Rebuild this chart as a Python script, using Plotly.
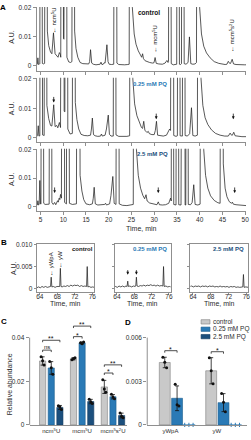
import plotly.graph_objects as go

W, H = 251, 440
FONT = "Liberation Sans, Arial, Helvetica, sans-serif"
AX = "#8f8f8f"
TXT = "#2b2b2b"
BLUE = "#2a7ab6"
DBLUE = "#1b4f7d"
LGRAY = "#c9c9c9"
GEDGE = "#7d7d7d"
LINE = "#222222"

# ---------------- data ----------------
A_TICKS = [5, 10, 15, 20, 25, 30, 35, 40, 45, 50]
B_TICKS = [64, 68, 72, 76]

# chromatogram vertices: (time, absorbance); tall peaks run off the top
A1 = [(4.15, 0.0004), (4.3, 0.0006), (4.42, 0.0028), (4.55, 0.0005), (4.8, 0.0007),
      (4.85, 0.0008), (5.12, 0.3), (5.4, 0.0009), (5.6, 0.0007), (5.9, 0.0009), (6.2, 0.3),
      (6.5, 0.012), (6.8, 0.007), (7.2, 0.0048), (7.5, 0.0042), (7.85, 0.0114), (8.2, 0.0042),
      (8.6, 0.0036), (8.85, 0.0030), (9.15, 0.0046), (9.35, 0.0040), (9.45, 0.003), (9.75, 0.3),
      (10.05, 0.0095), (10.15, 0.0092), (10.5, 0.3), (10.8, 0.0030), (11.2, 0.0014), (11.6, 0.0012),
      (11.9, 0.0015), (12.2, 0.3), (12.5, 0.012), (12.8, 0.006), (13.2, 0.003), (13.7, 0.0012),
      (14.3, 0.0008), (15.0, 0.0007), (15.6, 0.0007), (15.8, 0.0015), (16.0, 0.0056), (16.25, 0.0010),
      (16.6, 0.0006), (17.2, 0.0004), (17.8, 0.0005), (18.1, 0.0006), (18.3, 0.0013), (18.5, 0.0005),
      (18.8, 0.0006), (19.0, 0.0011), (19.2, 0.0010), (19.4, 0.0040), (19.6, 0.0073), (19.85, 0.0015),
      (20.1, 0.0006), (20.6, 0.0005), (21.1, 0.0006), (21.45, 0.3), (21.8, 0.0010), (22.2, 0.0005),
      (22.8, 0.0004), (23.5, 0.0004), (24.2, 0.0005), (24.5, 0.0006), (24.8, 0.3), (25.2, 0.02),
      (25.6, 0.011), (26.0, 0.0075), (26.5, 0.0052), (27.0, 0.0034), (27.25, 0.0030), (27.45, 0.0042),
      (27.65, 0.0025), (28.0, 0.0018), (28.5, 0.0014), (29.0, 0.0012), (29.6, 0.0010), (29.95, 0.0011),
      (30.2, 0.0029), (30.45, 0.0009), (31.0, 0.0007), (31.8, 0.0006), (32.4, 0.0010), (32.8, 0.0019),
      (33.05, 0.0012), (33.15, 0.0015), (33.45, 0.3), (33.75, 0.0008), (34.2, 0.0004), (34.6, 0.0004),
      (34.95, 0.0006), (35.25, 0.3), (35.55, 0.0006), (35.8, 0.0005), (36.0, 0.0008), (36.3, 0.3),
      (36.6, 0.0008), (37.0, 0.0006), (37.45, 0.0012), (37.75, 0.0100), (38.05, 0.0008), (38.5, 0.0006),
      (39.0, 0.0007), (39.3, 0.0012), (39.6, 0.3), (40.0, 0.02), (40.4, 0.011), (40.9, 0.0068),
      (41.5, 0.0045), (42.3, 0.0028), (43.2, 0.0015), (44.2, 0.0009), (45.0, 0.0006), (45.6, 0.0005),
      (46.0, 0.0006), (46.3, 0.0016), (46.6, 0.0009), (46.8, 0.0009), (47.15, 0.0023), (47.45, 0.0007),
      (48.0, 0.0005), (48.6, 0.0004), (49.2, 0.0005), (49.8, 0.0004), (50.2, 0.0004)]

A2 = [(4.15, 0.0004), (4.35, 0.0008), (4.5, 0.0041), (4.65, 0.0006), (4.85, 0.0007), (5.15, 0.3),
      (5.45, 0.0010), (5.8, 0.0008), (6.1, 0.3), (6.4, 0.011), (6.8, 0.0065), (7.2, 0.0042),
      (7.5, 0.0040), (7.9, 0.0112), (8.2, 0.0038), (8.55, 0.0042), (8.8, 0.0034), (9.15, 0.0052),
      (9.4, 0.0035), (9.9, 0.3), (10.2, 0.009), (10.35, 0.0088), (10.7, 0.3), (11.0, 0.003),
      (11.5, 0.0013), (12.0, 0.0015), (12.3, 0.3), (12.65, 0.012), (13.0, 0.0062), (13.4, 0.003),
      (13.9, 0.0012), (14.6, 0.0008), (15.4, 0.0007), (16.0, 0.0009), (16.2, 0.003), (16.4, 0.0067),
      (16.65, 0.0011), (17.0, 0.0007), (17.6, 0.0005), (18.2, 0.0006), (18.4, 0.0013), (18.6, 0.0006),
      (19.2, 0.0009), (19.5, 0.003), (19.9, 0.0077), (20.15, 0.0012), (20.5, 0.0006), (21.0, 0.0006),
      (21.3, 0.3), (21.6, 0.001), (22.2, 0.0005), (23.0, 0.0004), (24.0, 0.0005), (24.6, 0.0007),
      (24.9, 0.3), (25.3, 0.02), (25.7, 0.0115), (26.2, 0.0075), (26.7, 0.0052), (27.2, 0.0035),
      (27.45, 0.0032), (27.7, 0.0056), (27.95, 0.0026), (28.4, 0.0018), (28.7, 0.0022), (28.95, 0.0014),
      (29.5, 0.0011), (30.0, 0.0011), (30.25, 0.0025), (30.5, 0.0056), (30.75, 0.0009), (31.3, 0.0007),
      (32.0, 0.0006), (32.7, 0.0009), (33.2, 0.0025), (33.4, 0.003), (33.6, 0.0025), (34.0, 0.3),
      (34.3, 0.0008), (34.8, 0.0005), (35.1, 0.0007), (35.4, 0.3), (35.7, 0.0007), (36.2, 0.0006),
      (36.5, 0.3), (36.8, 0.0008), (37.3, 0.0006), (37.8, 0.0014), (38.2, 0.0102), (38.5, 0.0008),
      (39.0, 0.0006), (39.5, 0.0009), (39.9, 0.3), (40.3, 0.02), (40.7, 0.011), (41.2, 0.0068),
      (41.8, 0.0045), (42.6, 0.0027), (43.5, 0.0015), (44.5, 0.0009), (45.5, 0.0006), (46.3, 0.0006),
      (46.7, 0.0016), (47.0, 0.0009), (47.2, 0.0009), (47.5, 0.0019), (47.8, 0.0007), (48.5, 0.0005),
      (49.3, 0.0004), (50.2, 0.0004)]

A3 = [(4.15, 0.0004), (4.3, 0.0006), (4.42, 0.0021), (4.55, 0.0006), (4.7, 0.0008), (4.85, 0.0092),
      (5.0, 0.0010), (5.1, 0.0009), (5.4, 0.3), (5.7, 0.0012), (6.0, 0.0008), (6.6, 0.0007),
      (6.9, 0.0009), (7.2, 0.3), (7.5, 0.0015), (7.8, 0.0008), (8.1, 0.0015), (8.35, 0.0007),
      (8.75, 0.0021), (8.9, 0.0016), (9.1, 0.0030), (9.25, 0.0025), (9.4, 0.0043), (9.6, 0.003),
      (9.95, 0.3), (10.3, 0.0015), (10.7, 0.0010), (11.0, 0.3), (11.35, 0.0012), (12.0, 0.0008),
      (12.9, 0.0010), (13.3, 0.3), (13.7, 0.011), (14.1, 0.0055), (14.5, 0.0025), (15.0, 0.0010),
      (15.8, 0.0007), (16.4, 0.0010), (16.6, 0.003), (16.8, 0.0068), (17.05, 0.0010), (17.6, 0.0006),
      (18.4, 0.0006), (19.1, 0.0008), (19.3, 0.0012), (19.5, 0.0006), (20.2, 0.0010), (20.5, 0.004),
      (20.9, 0.0106), (21.2, 0.0012), (21.6, 0.0008), (22.0, 0.3), (22.3, 0.0010), (23.0, 0.0005),
      (24.0, 0.0004), (25.0, 0.0005), (25.4, 0.0008), (25.7, 0.3), (26.1, 0.02), (26.5, 0.011),
      (27.0, 0.0065), (27.5, 0.004), (27.9, 0.0028), (28.2, 0.0042), (28.45, 0.0020), (29.0, 0.0013),
      (29.8, 0.0009), (30.6, 0.0007), (30.9, 0.0017), (31.15, 0.0007), (31.8, 0.0006), (32.5, 0.0007),
      (33.2, 0.0012), (33.6, 0.003), (33.75, 0.002), (34.0, 0.3), (34.3, 0.0008), (34.8, 0.0006),
      (35.1, 0.3), (35.4, 0.0007), (35.9, 0.0006), (36.5, 0.3), (36.8, 0.0006), (36.95, 0.0006),
      (37.2, 0.3), (37.5, 0.0008), (38.0, 0.0007), (38.35, 0.0015), (38.7, 0.0077), (39.0, 0.0008),
      (39.6, 0.0006), (40.1, 0.0009), (40.5, 0.3), (40.9, 0.02), (41.3, 0.011), (41.8, 0.0065),
      (42.4, 0.0038), (43.2, 0.0022), (44.0, 0.0014), (44.5, 0.0012), (44.8, 0.3), (45.2, 0.015),
      (45.6, 0.0065), (46.0, 0.0035), (46.5, 0.0018), (47.0, 0.0012), (47.2, 0.0016), (47.4, 0.0009),
      (48.0, 0.0007), (48.8, 0.0005), (49.5, 0.0004), (50.2, 0.0004)]

B1 = [(63.3, 0.0002), (63.7, 0.0004), (64.1, 0.0002), (64.5, 0.0005), (64.9, 0.0003), (65.3, 0.0005),
      (65.7, 0.0003), (66.1, 0.0004), (66.45, 0.0005), (66.6, 0.0026), (66.75, 0.0004), (67.1, 0.0005),
      (67.5, 0.0003), (67.9, 0.0005), (68.3, 0.0004), (68.55, 0.0005), (68.7, 0.0046), (68.85, 0.0005),
      (69.1, 0.0004), (69.5, 0.0006), (69.9, 0.0005), (70.3, 0.0007), (70.7, 0.0005), (71.1, 0.0008),
      (71.5, 0.0006), (71.9, 0.0008), (72.3, 0.0007), (72.7, 0.0008), (73.1, 0.0005), (73.5, 0.0007),
      (73.9, 0.0005), (74.3, 0.0006), (74.7, 0.0005), (74.85, 0.0050), (75.0, 0.0004), (75.3, 0.0005),
      (75.7, 0.0003), (76.1, 0.0004), (76.45, 0.0003)]
B2 = [(63.3, 0.0004), (63.7, 0.0005), (64.1, 0.0003), (64.5, 0.0006), (64.9, 0.0004), (65.3, 0.0006),
      (65.7, 0.0004), (66.1, 0.0006), (66.35, 0.0005), (66.5, 0.0017), (66.65, 0.0005), (67.0, 0.0006),
      (67.4, 0.0004), (67.8, 0.0006), (68.2, 0.0005), (68.35, 0.0006), (68.5, 0.0026), (68.65, 0.0006),
      (69.0, 0.0005), (69.4, 0.0007), (69.8, 0.0006), (70.2, 0.0008), (70.6, 0.0006), (71.0, 0.0008),
      (71.4, 0.0007), (71.8, 0.0009), (72.2, 0.0007), (72.6, 0.0008), (73.0, 0.0006), (73.4, 0.0008),
      (73.8, 0.0006), (74.2, 0.0007), (74.6, 0.0006), (74.75, 0.0050), (74.9, 0.0005), (75.3, 0.0006),
      (75.7, 0.0004), (76.1, 0.0005), (76.45, 0.0004)]
B3 = [(63.3, 0.0005), (63.7, 0.0006), (64.1, 0.0004), (64.5, 0.0006), (64.9, 0.0005), (65.3, 0.0006),
      (65.7, 0.0004), (66.1, 0.0006), (66.5, 0.0005), (66.9, 0.0006), (67.3, 0.0004), (67.7, 0.0006),
      (68.1, 0.0005), (68.5, 0.0006), (68.9, 0.0004), (69.3, 0.0005), (69.7, 0.0004), (70.1, 0.0006),
      (70.5, 0.0004), (70.9, 0.0005), (71.3, 0.0004), (71.7, 0.0005), (72.1, 0.0003), (72.5, 0.0005),
      (72.9, 0.0004), (73.3, 0.0005), (73.7, 0.0003), (74.1, 0.0004), (74.5, 0.0003), (74.9, 0.0004),
      (75.2, 0.0004), (75.35, 0.0032), (75.5, 0.0003), (75.9, 0.0004), (76.45, 0.0003)]

GROUPS = ["control", "0.25 mM PQ", "2.5 mM PQ"]

C_CATS = ["ncm<sup>5</sup>U", "mcm<sup>5</sup>U", "mcm<sup>5</sup>s<sup>2</sup>U"]
C_MEAN = [[0.0293, 0.0303, 0.0174],   # control
          [0.0261, 0.0376, 0.0129],   # 0.25 mM PQ
          [0.0080, 0.0107, 0.0043]]   # 2.5 mM PQ
C_ERR = [[0.0019, 0.0005, 0.0030],
         [0.0029, 0.0004, 0.0010],
         [0.0009, 0.0010, 0.0011]]
C_PTS = [[[0.0312, 0.0294, 0.0275], [0.0298, 0.0303, 0.0308], [0.0207, 0.0165, 0.0150]],
         [[0.0290, 0.0262, 0.0232], [0.0376, 0.0372, 0.0380], [0.0140, 0.0128, 0.0120]],
         [[0.0088, 0.0082, 0.0071], [0.0118, 0.0106, 0.0098], [0.0055, 0.0040, 0.0033]]]
C_SIG = [(0, 0, 1, 0.03427, "ns"), (0, 0, 2, 0.03878, "**"), (1, 0, 1, 0.04045, "*"),
         (1, 0, 2, 0.04528, "**"), (2, 0, 1, 0.02377, "*"), (2, 0, 2, 0.02751, "**")]

D_CATS = ["yWpA", "yW"]
D_MEAN = [[0.00429, 0.00372], [0.00183, 0.00153], [0.0, 0.0]]
D_ERR = [[0.00036, 0.00090], [0.00085, 0.00062], [0.0, 0.0]]
D_PTS = [[[0.00465, 0.00430, 0.00392], [0.00462, 0.00372, 0.00282]],
         [[0.00280, 0.00138, 0.00130], [0.00215, 0.00155, 0.00090]],
         [[0.0, 0.0, 0.0], [0.0, 0.0, 0.0]]]
D_SIG = [(0, 0, 1, 0.00510, "*"), (1, 0, 1, 0.00503, "*")]

# ---------------- figure ----------------
def yd(top, bottom):
    return [1 - bottom / H, 1 - top / H]

def xd(left, right):
    return [left / W, right / W]

fig = go.Figure()

def line_trace(pts, n):
    fig.add_trace(go.Scatter(x=[p[0] for p in pts], y=[p[1] for p in pts], mode="lines",
                             line=dict(color=LINE, width=0.75), hoverinfo="skip",
                             xaxis=f"x{n}", yaxis=f"y{n}", showlegend=False))

for n, tr in enumerate([A1, A2, A3, B1, B2, B3], start=1):
    line_trace(tr, n)

FILLS = [LGRAY, BLUE, DBLUE]
EDGES = [GEDGE, "#1f5f8f", "#143d61"]

# C bars
C_OFF = [-0.38, -0.10, 0.18]
C_W = 0.2
for g in range(3):
    fig.add_trace(go.Bar(x=[0, 1, 2], y=C_MEAN[g], width=C_W, offset=C_OFF[g],
                         marker=dict(color=FILLS[g], line=dict(color=EDGES[g], width=0.6)),
                         error_y=dict(type="data", array=C_ERR[g], color="#111", thickness=0.8, width=2),
                         xaxis="x7", yaxis="y7", showlegend=False, hoverinfo="skip"))
    xs, ys = [], []
    for c in range(3):
        ctr = c + C_OFF[g] + C_W / 2
        for k, v in enumerate(C_PTS[g][c]):
            xs.append(ctr + (k - 1) * 0.05)
            ys.append(v)
    fig.add_trace(go.Scatter(x=xs, y=ys, mode="markers", marker=dict(color="#111", size=3),
                             xaxis="x7", yaxis="y7", showlegend=False, hoverinfo="skip"))

# D bars
D_OFF = [-0.24, 0.025, 0.28]
D_W = 0.235
for g in range(3):
    if g < 2:
        fig.add_trace(go.Bar(x=[0, 1], y=D_MEAN[g], width=D_W, offset=D_OFF[g],
                             marker=dict(color=FILLS[g], line=dict(color=EDGES[g], width=0.6)),
                             error_y=dict(type="data", array=D_ERR[g], color="#111", thickness=0.8, width=2),
                             xaxis="x8", yaxis="y8", showlegend=False, hoverinfo="skip"))
    xs, ys = [], []
    for c in range(2):
        ctr = c + D_OFF[g] + D_W / 2
        spread = 0.04 if g < 2 else 0.09
        for k, v in enumerate(D_PTS[g][c]):
            xs.append(ctr + (k - 1) * spread)
            ys.append(v)
    fig.add_trace(go.Scatter(x=xs, y=ys, mode="markers",
                             marker=dict(color="#111" if g < 2 else BLUE, size=3,
                                         symbol="circle" if g < 2 else "cross-thin",
                                         line=dict(color=BLUE, width=1) if g == 2 else None),
                             cliponaxis=False,
                             xaxis="x8", yaxis="y8", showlegend=False, hoverinfo="skip"))

tickfont = dict(family=FONT, size=6.5, color=TXT)
base_ax = dict(showgrid=False, zeroline=False, showline=True, linecolor=AX, linewidth=1,
               ticks="outside", ticklen=3, tickwidth=1, tickcolor=AX, tickfont=tickfont)

lay = {}
# A panels
A_dom = [(3, 68), (75, 140), (147, 210)]
A_rng = [[-0.0017, 0.0203], [-0.00133, 0.02033], [-0.00138, 0.02034]]
for i in range(3):
    n = i + 1
    sx = "" if n == 1 else str(n)
    lay[f"xaxis{sx}"] = dict(base_ax, domain=xd(36, 248), range=[4.13, 50.2], anchor=f"y{sx}",
                             tickvals=A_TICKS, showticklabels=(i == 2))
    lay[f"yaxis{sx}"] = dict(base_ax, domain=yd(*A_dom[i]), range=A_rng[i], anchor=f"x{sx}",
                             tickvals=[0, 0.01, 0.02], ticktext=["0", "0.01", "0.02"])
# B panels
B_xdom = [(36, 94.3), (115, 171.7), (191.7, 250)]
B_xrng = [[63.25, 76.44], [63.48, 76.39], [63.42, 76.38]]
for i in range(3):
    n = i + 4
    lay[f"xaxis{n}"] = dict(base_ax, domain=xd(*B_xdom[i]), range=B_xrng[i], anchor=f"y{n}",
                            tickvals=B_TICKS, mirror=True, ticklen=2, ticklabelstandoff=-3)
    lay[f"yaxis{n}"] = dict(base_ax, domain=yd(244.3, 292.3), range=[-0.00067, 0.0100], anchor=f"x{n}",
                            tickvals=[0, 0.005, 0.010], ticktext=["0", "0.005", "0.010"],
                            showticklabels=(i == 0), mirror=True, ticklen=2)
# C
lay["xaxis7"] = dict(base_ax, domain=xd(29, 128), range=[-0.70, 2.47], anchor="y7",
                     tickvals=[0, 1, 2], ticktext=C_CATS, ticks="", tickfont=dict(tickfont, size=6))
lay["yaxis7"] = dict(base_ax, domain=yd(322, 427.7), range=[0, 0.04767], anchor="x7",
                     tickvals=[0, 0.02, 0.04], ticktext=["0", "0.02", "0.04"], showline=False)
# D
lay["xaxis8"] = dict(base_ax, domain=xd(148, 249), range=[-0.5, 1.649], anchor="y8",
                     tickvals=[0, 1], ticktext=D_CATS, ticks="", tickfont=dict(tickfont, size=6))
lay["yaxis8"] = dict(base_ax, domain=yd(322, 427.7), range=[0, 0.00715], anchor="x8",
                     tickvals=[0, 0.003, 0.006], ticktext=["0", "0.003", "0.006"], showline=False)

shapes = [
    dict(type="line", xref="x7 domain", yref="y7", x0=0, x1=0, y0=0, y1=0.04, line=dict(color=AX, width=1)),
    dict(type="line", xref="x8 domain", yref="y8", x0=0, x1=0, y0=0, y1=0.006, line=dict(color=AX, width=1)),
]
annots = []

def ann(text, px, py, size=7, color=TXT, bold=False, angle=0, xanchor="center", yanchor="middle", **kw):
    t = f"<b>{text}</b>" if bold else text
    d = dict(text=t, x=px / W, y=1 - py / H, xref="paper", yref="paper", showarrow=False,
             font=dict(family=FONT, size=size, color=color), textangle=angle,
             xanchor=xanchor, yanchor=yanchor)
    d.update(kw)
    annots.append(d)

# brackets
def bracket(xref, yref, x0, x1, y, drop, label, size):
    shapes.append(dict(type="path", xref=xref, yref=yref,
                       path=f"M {x0},{y - drop} L {x0},{y} L {x1},{y} L {x1},{y - drop}",
                       line=dict(color="#222", width=0.8)))
    annots.append(dict(text=label, x=(x0 + x1) / 2, y=y, xref=xref, yref=yref, showarrow=False,
                       font=dict(family=FONT, size=size, color="#111"), xanchor="center",
                       yanchor="bottom", yshift=(-4 if "*" in label else -1.5)))

for c, a, b, y, lab in C_SIG:
    bracket("x7", "y7", c + C_OFF[a] + C_W / 2, c + C_OFF[b] + C_W / 2, y, 0.0009, lab, 7 if "*" in lab else 6)
for c, a, b, y, lab in D_SIG:
    bracket("x8", "y8", c + D_OFF[a] + D_W / 2, c + D_OFF[b] + D_W / 2, y, 0.000135, lab, 7)

# panel letters
ann("A", 2.5, 3.5, size=8, bold=True, color="#000")
ann("B", 3, 242, size=8, bold=True, color="#000")
ann("C", 3.5, 323, size=8, bold=True, color="#000")
ann("D", 128.5, 324, size=8, bold=True, color="#000")

# condition labels
ann("control", 150, 9, size=6.5, bold=True, color="#111")
ann("0.25 mM PQ", 151, 81, size=6, bold=True, color=BLUE)
ann("2.5 mM PQ", 153, 152.5, size=6, bold=True, color=DBLUE)
ann("control", 82, 249, size=6, bold=True, color="#111")
ann("0.25 mM PQ", 151, 249, size=6, bold=True, color=BLUE)
ann("2.5 mM PQ", 230, 249, size=6, bold=True, color=DBLUE)

# axis titles
for cy in (33, 105.5, 177.5):
    ann("A.U.", 10.5, cy, size=7, angle=-90)
ann("A.U.", 12.5, 268, size=7, angle=-90)
ann("Time, min", 142, 228, size=7)
for cx in (65, 143.3, 221):
    ann("Time, min", cx, 304, size=7)
ann("Relative abundance", 8.5, 386, size=7, angle=-90)

# rotated peak labels (text holds its own arrow)
def vlabel(text, xref, x, cy, size=6):
    annots.append(dict(text="\u2190 " + text, x=x, xref=xref, y=1 - cy / H, yref="paper",
                       showarrow=False, textangle=-90, font=dict(family=FONT, size=size, color="#111"),
                       xanchor="center", yanchor="middle"))

vlabel("ncm<sup>5</sup>U", "x", 7.85, 16)
vlabel("mcm<sup>5</sup>U", "x", 30.2, 36)
vlabel("mcm<sup>5</sup>s<sup>2</sup>U", "x", 47.2, 32)
vlabel("yWpA", "x4", 66.6, 264)
vlabel("yW", "x4", 68.7, 259.5)

def arrow(xref, x, tip_py, length=7):
    annots.append(dict(text="", x=x, xref=xref, y=1 - tip_py / H, yref="paper", showarrow=True,
                       ax=0, ay=-length, arrowhead=2, arrowsize=0.7, arrowwidth=0.8,
                       arrowcolor="#111", standoff=0))

arrow("x2", 7.9, 100)
arrow("x2", 30.45, 117)
arrow("x2", 47.4, 117)
arrow("x3", 8.1, 192)
arrow("x3", 30.9, 192)
arrow("x3", 47.7, 192)
arrow("x5", 66.5, 275, 6)
arrow("x5", 68.5, 275, 6)

# legend (drawn)
for i, name in enumerate(GROUPS):
    cy = 323 + i * 7.5
    shapes.append(dict(type="rect", xref="paper", yref="paper", x0=202.5 / W, x1=211.5 / W,
                       y0=1 - (cy + 2.2) / H, y1=1 - (cy - 2.2) / H,
                       fillcolor=FILLS[i], line=dict(color=EDGES[i], width=0.6)))
    ann(name, 213, cy, size=6.5, xanchor="left")

fig.update_layout(width=W, height=H, margin=dict(l=0, r=0, t=0, b=0),
                  paper_bgcolor="white", plot_bgcolor="white", showlegend=False,
                  barmode="overlay", font=dict(family=FONT, size=7, color=TXT),
                  shapes=shapes, annotations=annots, **lay)

fig.write_html("out.html")
